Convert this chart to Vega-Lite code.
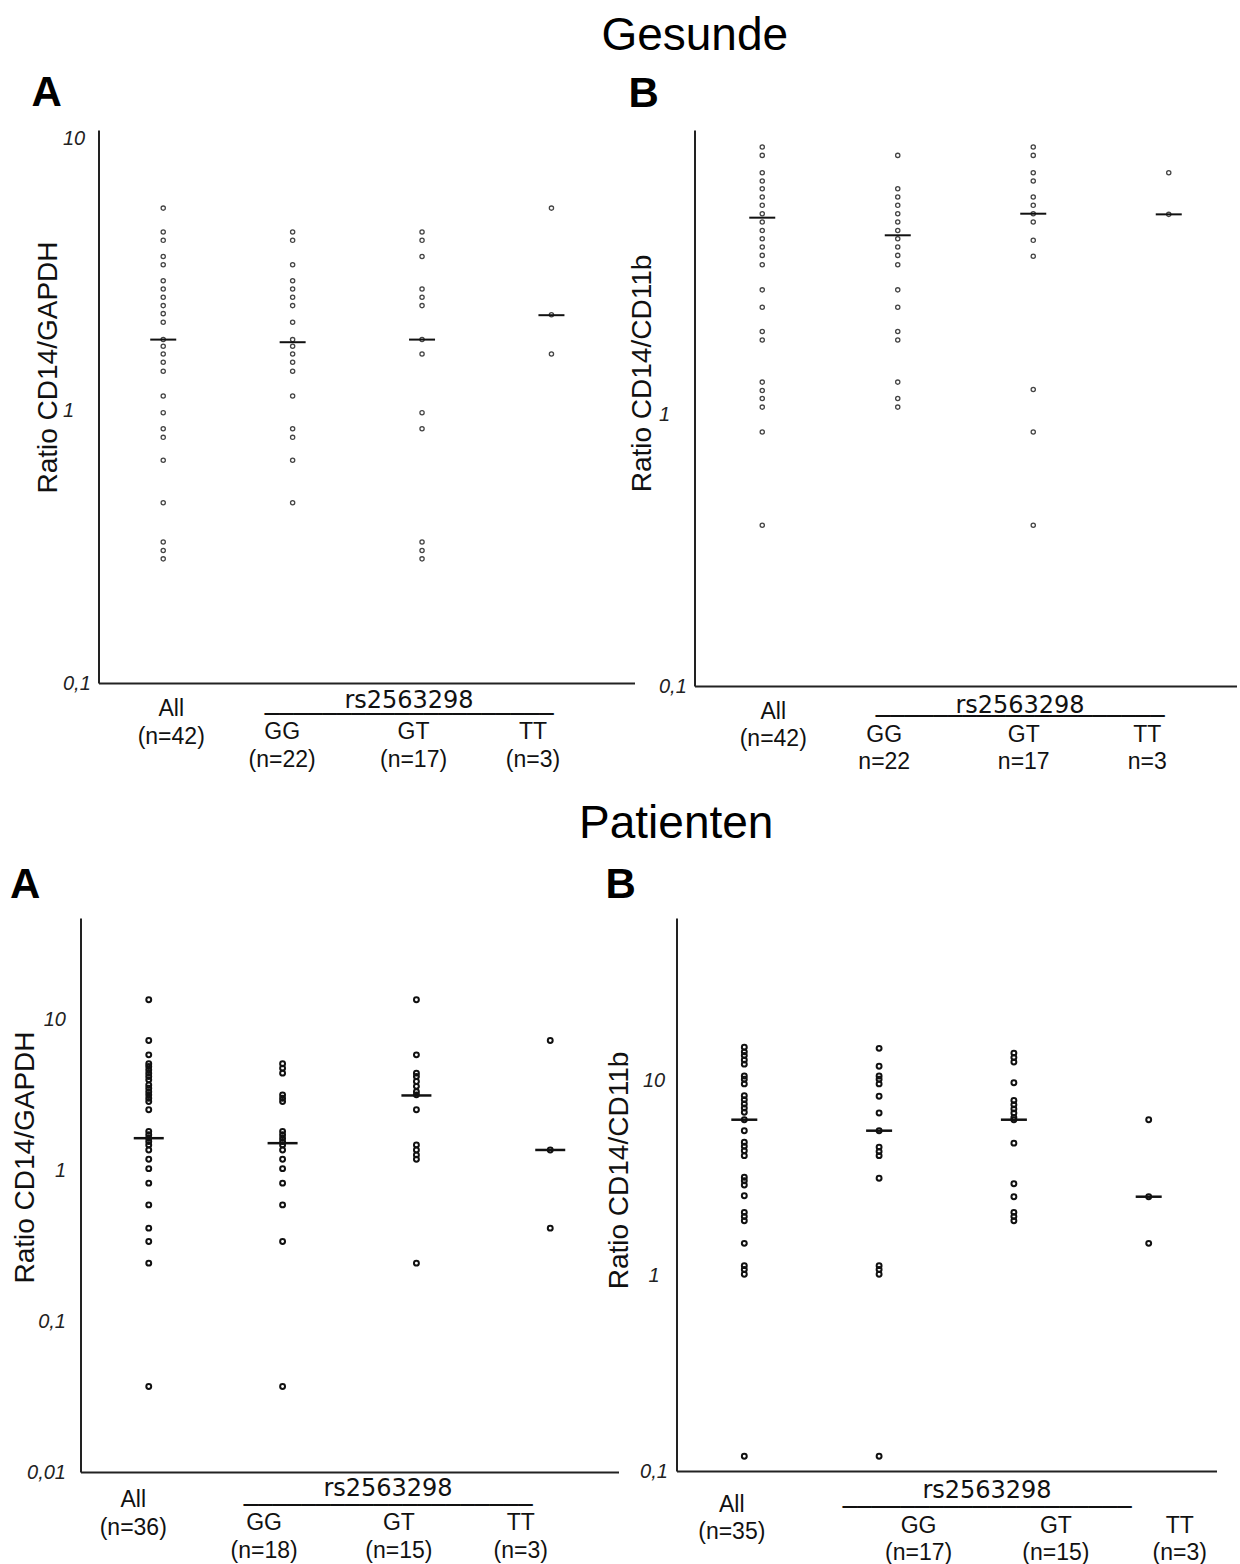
{
"$schema": "https://vega.github.io/schema/vega-lite/v6.json",
"autosize": {"type": "pad"},
"padding": {"left": 9.5, "top": 12, "right": 0, "bottom": 0},
"background": "white",
"config": {"font": "Liberation Sans", "view": {"stroke": null}, "title": {"color": "#000", "font": "Liberation Sans"}},
"datasets": {
"pts": [
{"p":"GA","g":"All","v":5.57},{"p":"GA","g":"All","v":4.55},{"p":"GA","g":"All","v":4.24},{"p":"GA","g":"All","v":3.70},{"p":"GA","g":"All","v":3.45},{"p":"GA","g":"All","v":3.01},{"p":"GA","g":"All","v":2.81},{"p":"GA","g":"All","v":2.62},{"p":"GA","g":"All","v":2.44},{"p":"GA","g":"All","v":2.28},{"p":"GA","g":"All","v":2.12},{"p":"GA","g":"All","v":1.83},{"p":"GA","g":"All","v":1.73},{"p":"GA","g":"All","v":1.62},{"p":"GA","g":"All","v":1.51},{"p":"GA","g":"All","v":1.40},{"p":"GA","g":"All","v":1.135},{"p":"GA","g":"All","v":0.986},{"p":"GA","g":"All","v":0.861},{"p":"GA","g":"All","v":0.80},{"p":"GA","g":"All","v":0.659},{"p":"GA","g":"All","v":0.46},{"p":"GA","g":"All","v":0.33},{"p":"GA","g":"All","v":0.307},{"p":"GA","g":"All","v":0.286},
{"p":"GA","g":"GG","v":4.55},{"p":"GA","g":"GG","v":4.24},{"p":"GA","g":"GG","v":3.45},{"p":"GA","g":"GG","v":3.01},{"p":"GA","g":"GG","v":2.81},{"p":"GA","g":"GG","v":2.62},{"p":"GA","g":"GG","v":2.44},{"p":"GA","g":"GG","v":2.12},{"p":"GA","g":"GG","v":1.83},{"p":"GA","g":"GG","v":1.73},{"p":"GA","g":"GG","v":1.62},{"p":"GA","g":"GG","v":1.51},{"p":"GA","g":"GG","v":1.40},{"p":"GA","g":"GG","v":1.135},{"p":"GA","g":"GG","v":0.861},{"p":"GA","g":"GG","v":0.80},{"p":"GA","g":"GG","v":0.659},{"p":"GA","g":"GG","v":0.46},
{"p":"GA","g":"GT","v":4.55},{"p":"GA","g":"GT","v":4.24},{"p":"GA","g":"GT","v":3.70},{"p":"GA","g":"GT","v":2.81},{"p":"GA","g":"GT","v":2.62},{"p":"GA","g":"GT","v":2.44},{"p":"GA","g":"GT","v":1.83},{"p":"GA","g":"GT","v":1.62},{"p":"GA","g":"GT","v":0.986},{"p":"GA","g":"GT","v":0.861},{"p":"GA","g":"GT","v":0.33},{"p":"GA","g":"GT","v":0.307},{"p":"GA","g":"GT","v":0.286},
{"p":"GA","g":"TT","v":5.57},{"p":"GA","g":"TT","v":2.26},{"p":"GA","g":"TT","v":1.62},
{"p":"GB","g":"All","v":9.59},{"p":"GB","g":"All","v":8.93},{"p":"GB","g":"All","v":7.71},{"p":"GB","g":"All","v":7.19},{"p":"GB","g":"All","v":6.73},{"p":"GB","g":"All","v":6.28},{"p":"GB","g":"All","v":5.85},{"p":"GB","g":"All","v":5.45},{"p":"GB","g":"All","v":5.08},{"p":"GB","g":"All","v":4.73},{"p":"GB","g":"All","v":4.41},{"p":"GB","g":"All","v":4.11},{"p":"GB","g":"All","v":3.83},{"p":"GB","g":"All","v":3.54},{"p":"GB","g":"All","v":2.86},{"p":"GB","g":"All","v":2.47},{"p":"GB","g":"All","v":2.01},{"p":"GB","g":"All","v":1.87},{"p":"GB","g":"All","v":1.31},{"p":"GB","g":"All","v":1.22},{"p":"GB","g":"All","v":1.14},{"p":"GB","g":"All","v":1.06},{"p":"GB","g":"All","v":0.859},{"p":"GB","g":"All","v":0.39},
{"p":"GB","g":"GG","v":8.93},{"p":"GB","g":"GG","v":6.73},{"p":"GB","g":"GG","v":6.28},{"p":"GB","g":"GG","v":5.85},{"p":"GB","g":"GG","v":5.45},{"p":"GB","g":"GG","v":5.08},{"p":"GB","g":"GG","v":4.73},{"p":"GB","g":"GG","v":4.41},{"p":"GB","g":"GG","v":4.11},{"p":"GB","g":"GG","v":3.83},{"p":"GB","g":"GG","v":3.54},{"p":"GB","g":"GG","v":2.86},{"p":"GB","g":"GG","v":2.47},{"p":"GB","g":"GG","v":2.01},{"p":"GB","g":"GG","v":1.87},{"p":"GB","g":"GG","v":1.31},{"p":"GB","g":"GG","v":1.14},{"p":"GB","g":"GG","v":1.06},
{"p":"GB","g":"GT","v":9.59},{"p":"GB","g":"GT","v":8.93},{"p":"GB","g":"GT","v":7.71},{"p":"GB","g":"GT","v":7.19},{"p":"GB","g":"GT","v":6.28},{"p":"GB","g":"GT","v":5.85},{"p":"GB","g":"GT","v":5.45},{"p":"GB","g":"GT","v":5.08},{"p":"GB","g":"GT","v":4.35},{"p":"GB","g":"GT","v":3.80},{"p":"GB","g":"GT","v":1.23},{"p":"GB","g":"GT","v":0.859},{"p":"GB","g":"GT","v":0.39},
{"p":"GB","g":"TT","v":7.71},{"p":"GB","g":"TT","v":5.42},
{"p":"PA","g":"All","v":13.6},{"p":"PA","g":"All","v":7.30},{"p":"PA","g":"All","v":5.86},{"p":"PA","g":"All","v":5.11},{"p":"PA","g":"All","v":4.90},{"p":"PA","g":"All","v":4.66},{"p":"PA","g":"All","v":4.43},{"p":"PA","g":"All","v":4.21},{"p":"PA","g":"All","v":4.00},{"p":"PA","g":"All","v":3.70},{"p":"PA","g":"All","v":3.52},{"p":"PA","g":"All","v":3.34},{"p":"PA","g":"All","v":3.18},{"p":"PA","g":"All","v":3.02},{"p":"PA","g":"All","v":2.87},{"p":"PA","g":"All","v":2.53},{"p":"PA","g":"All","v":1.82},{"p":"PA","g":"All","v":1.73},{"p":"PA","g":"All","v":1.64},{"p":"PA","g":"All","v":1.56},{"p":"PA","g":"All","v":1.48},{"p":"PA","g":"All","v":1.37},{"p":"PA","g":"All","v":1.19},{"p":"PA","g":"All","v":1.03},{"p":"PA","g":"All","v":0.825},{"p":"PA","g":"All","v":0.592},{"p":"PA","g":"All","v":0.415},{"p":"PA","g":"All","v":0.338},{"p":"PA","g":"All","v":0.243},{"p":"PA","g":"All","v":0.0369},
{"p":"PA","g":"GG","v":5.11},{"p":"PA","g":"GG","v":4.78},{"p":"PA","g":"GG","v":4.43},{"p":"PA","g":"GG","v":3.18},{"p":"PA","g":"GG","v":3.02},{"p":"PA","g":"GG","v":2.87},{"p":"PA","g":"GG","v":1.82},{"p":"PA","g":"GG","v":1.73},{"p":"PA","g":"GG","v":1.64},{"p":"PA","g":"GG","v":1.56},{"p":"PA","g":"GG","v":1.48},{"p":"PA","g":"GG","v":1.37},{"p":"PA","g":"GG","v":1.19},{"p":"PA","g":"GG","v":1.03},{"p":"PA","g":"GG","v":0.825},{"p":"PA","g":"GG","v":0.592},{"p":"PA","g":"GG","v":0.338},{"p":"PA","g":"GG","v":0.0369},
{"p":"PA","g":"GT","v":13.6},{"p":"PA","g":"GT","v":5.86},{"p":"PA","g":"GT","v":4.43},{"p":"PA","g":"GT","v":4.21},{"p":"PA","g":"GT","v":3.90},{"p":"PA","g":"GT","v":3.62},{"p":"PA","g":"GT","v":3.34},{"p":"PA","g":"GT","v":3.18},{"p":"PA","g":"GT","v":2.53},{"p":"PA","g":"GT","v":1.48},{"p":"PA","g":"GT","v":1.37},{"p":"PA","g":"GT","v":1.27},{"p":"PA","g":"GT","v":1.19},{"p":"PA","g":"GT","v":0.243},
{"p":"PA","g":"TT","v":7.30},{"p":"PA","g":"TT","v":1.37},{"p":"PA","g":"TT","v":0.415},
{"p":"PB","g":"All","v":14.9},{"p":"PB","g":"All","v":14.1},{"p":"PB","g":"All","v":13.5},{"p":"PB","g":"All","v":12.8},{"p":"PB","g":"All","v":12.2},{"p":"PB","g":"All","v":10.6},{"p":"PB","g":"All","v":10.2},{"p":"PB","g":"All","v":9.66},{"p":"PB","g":"All","v":8.41},{"p":"PB","g":"All","v":8.02},{"p":"PB","g":"All","v":7.62},{"p":"PB","g":"All","v":7.27},{"p":"PB","g":"All","v":6.91},{"p":"PB","g":"All","v":6.33},{"p":"PB","g":"All","v":5.56},{"p":"PB","g":"All","v":4.85},{"p":"PB","g":"All","v":4.63},{"p":"PB","g":"All","v":4.39},{"p":"PB","g":"All","v":4.14},{"p":"PB","g":"All","v":3.21},{"p":"PB","g":"All","v":3.08},{"p":"PB","g":"All","v":2.93},{"p":"PB","g":"All","v":2.58},{"p":"PB","g":"All","v":2.12},{"p":"PB","g":"All","v":2.02},{"p":"PB","g":"All","v":1.92},{"p":"PB","g":"All","v":1.47},{"p":"PB","g":"All","v":1.13},{"p":"PB","g":"All","v":1.08},{"p":"PB","g":"All","v":1.02},{"p":"PB","g":"All","v":0.119},
{"p":"PB","g":"GG","v":14.7},{"p":"PB","g":"GG","v":11.9},{"p":"PB","g":"GG","v":10.6},{"p":"PB","g":"GG","v":10.2},{"p":"PB","g":"GG","v":9.66},{"p":"PB","g":"GG","v":8.35},{"p":"PB","g":"GG","v":6.85},{"p":"PB","g":"GG","v":5.56},{"p":"PB","g":"GG","v":4.58},{"p":"PB","g":"GG","v":4.35},{"p":"PB","g":"GG","v":4.14},{"p":"PB","g":"GG","v":3.17},{"p":"PB","g":"GG","v":1.13},{"p":"PB","g":"GG","v":1.08},{"p":"PB","g":"GG","v":1.02},{"p":"PB","g":"GG","v":0.119},
{"p":"PB","g":"GT","v":13.9},{"p":"PB","g":"GT","v":13.2},{"p":"PB","g":"GT","v":12.5},{"p":"PB","g":"GT","v":9.8},{"p":"PB","g":"GT","v":7.94},{"p":"PB","g":"GT","v":7.55},{"p":"PB","g":"GT","v":7.19},{"p":"PB","g":"GT","v":6.85},{"p":"PB","g":"GT","v":6.50},{"p":"PB","g":"GT","v":6.33},{"p":"PB","g":"GT","v":4.80},{"p":"PB","g":"GT","v":2.97},{"p":"PB","g":"GT","v":2.55},{"p":"PB","g":"GT","v":2.12},{"p":"PB","g":"GT","v":2.02},{"p":"PB","g":"GT","v":1.92},
{"p":"PB","g":"TT","v":6.33},{"p":"PB","g":"TT","v":2.55},{"p":"PB","g":"TT","v":1.47}
],
"med": [
{"p":"GA","g":"All","m":1.83},{"p":"GA","g":"GG","m":1.79},{"p":"GA","g":"GT","m":1.83},{"p":"GA","g":"TT","m":2.25},
{"p":"GB","g":"All","m":5.27},{"p":"GB","g":"GG","m":4.54},{"p":"GB","g":"GT","m":5.45},{"p":"GB","g":"TT","m":5.42},
{"p":"PA","g":"All","m":1.64},{"p":"PA","g":"GG","m":1.52},{"p":"PA","g":"GT","m":3.15},{"p":"PA","g":"TT","m":1.37},
{"p":"PB","g":"All","m":6.33},{"p":"PB","g":"GG","m":5.56},{"p":"PB","g":"GT","m":6.33},{"p":"PB","g":"TT","m":2.55}
]
},
"vconcat": [
{
"title": {"text": "Gesunde", "fontSize": 46, "fontWeight": "normal", "anchor": "middle", "frame": "bounds", "dx": 60.75, "offset": -23.6, "baseline": "alphabetic"},
"spacing": 0,
"bounds": "flush",
"hconcat": [
{"width": 17.5, "height": 10, "data": {"values": []}, "mark": "point"},
{
"width": 536, "height": 553,
"title": {"text": "A", "fontSize": 42, "fontWeight": "bold", "anchor": "start", "frame": "group", "dx": -67, "offset": -19, "baseline": "alphabetic"},
"layer": [
{"data": {"name": "pts"}, "transform": [{"filter": "datum.p === 'GA'"}],
"mark": {"type": "point", "shape": "circle", "filled": false, "size": 18, "strokeWidth": 1.3, "color": "#444", "opacity": 1},
"encoding": {
"x": {"field": "g", "type": "nominal", "scale": {"type": "point", "domain": ["All","GG","GT","TT"], "padding": 0.571, "align": 0.438},
"axis": {"title": ["rs2563298", "────────────────────"], "titleFont": "DejaVu Sans", "titleFontSize": 24, "titleFontWeight": "normal", "titleColor": "#111", "titleX": 310, "titleY": 5, "titleAlign": "center", "titleBaseline": "top", "titleLineHeight": 14.7,
"labelAngle": 0, "labelExpr": "datum.value === 'All' ? ['All','(n=42)'] : datum.value === 'GG' ? ['GG','(n=22)'] : datum.value === 'GT' ? ['GT','(n=17)'] : ['TT','(n=3)']",
"labelFontSize": 23, "labelColor": "#111", "labelBaseline": "top", "labelAlign": "center", "labelLineHeight": 28,
"labelPadding": {"condition": {"test": "datum.value === 'All'", "value": 14}, "value": 37},
"labelOffset": {"condition": [{"test": "datum.value === 'All'", "value": 7.5}, {"test": "datum.value === 'GG'", "value": -11}, {"test": "datum.value === 'GT'", "value": -9}], "value": -19},
"labelOverlap": false, "labelFlush": false, "labelBound": false,
"ticks": false, "tickSize": 0, "domainColor": "#222", "domainWidth": 2, "grid": false}},
"y": {"field": "v", "type": "quantitative", "scale": {"type": "log", "domain": [0.1, 10.79], "nice": false},
"axis": {"values": [0.1, 1, 10], "title": "Ratio CD14/GAPDH", "titleFontSize": 28, "titleFontWeight": "normal", "titleColor": "#111", "titleX": -50.5, "titleY": 237, "titleAngle": -90, "titleAlign": "center", "titleBaseline": "middle",
"labelExpr": "replace(format(datum.value, '~g'), '.', ',')", "labelFontStyle": "italic", "labelFontSize": 20, "labelColor": "#222", "labelAlign": "left", "labelBaseline": "middle", "labelPadding": 36, "labelOverlap": false, "labelFlush": false, "labelBound": false,
"ticks": false, "tickSize": 0, "domainColor": "#222", "domainWidth": 2, "grid": false}}
}},
{"data": {"name": "med"}, "transform": [{"filter": "datum.p === 'GA'"}],
"mark": {"type": "tick", "size": 26, "thickness": 2, "color": "#111", "opacity": 1},
"encoding": {"x": {"field": "g", "type": "nominal"}, "y": {"field": "m", "type": "quantitative"}}}
]
},
{"width": 60, "height": 10, "data": {"values": []}, "mark": "point"},
{
"width": 542, "height": 556,
"title": {"text": "B", "fontSize": 42, "fontWeight": "bold", "anchor": "start", "frame": "group", "dx": -66, "offset": -19, "baseline": "alphabetic"},
"layer": [
{"data": {"name": "pts"}, "transform": [{"filter": "datum.p === 'GB'"}],
"mark": {"type": "point", "shape": "circle", "filled": false, "size": 18, "strokeWidth": 1.3, "color": "#444", "opacity": 1},
"encoding": {
"x": {"field": "g", "type": "nominal", "scale": {"type": "point", "domain": ["All","GG","GT","TT"], "padding": 0.5, "align": 0.5},
"axis": {"title": ["rs2563298", "────────────────────"], "titleFont": "DejaVu Sans", "titleFontSize": 24, "titleFontWeight": "normal", "titleColor": "#111", "titleX": 325, "titleY": 7, "titleAlign": "center", "titleBaseline": "top", "titleLineHeight": 11,
"labelAngle": 0, "labelExpr": "datum.value === 'All' ? ['All','(n=42)'] : datum.value === 'GG' ? ['GG','n=22'] : datum.value === 'GT' ? ['GT','n=17'] : ['TT','n=3']",
"labelFontSize": 23, "labelColor": "#111", "labelBaseline": "top", "labelAlign": "center", "labelLineHeight": 27,
"labelPadding": {"condition": {"test": "datum.value === 'All'", "value": 14.3}, "value": 37},
"labelOffset": {"condition": [{"test": "datum.value === 'All'", "value": 10.5}, {"test": "datum.value === 'GG'", "value": -14}, {"test": "datum.value === 'GT'", "value": -10}], "value": -22},
"labelOverlap": false, "labelFlush": false, "labelBound": false,
"ticks": false, "tickSize": 0, "domainColor": "#222", "domainWidth": 2, "grid": false}},
"y": {"field": "v", "type": "quantitative", "scale": {"type": "log", "domain": [0.1, 11.07], "nice": false},
"axis": {"values": [0.1, 1], "title": "Ratio CD14/CD11b", "titleFontSize": 28, "titleFontWeight": "normal", "titleColor": "#111", "titleX": -52, "titleY": 243, "titleAngle": -90, "titleAlign": "center", "titleBaseline": "middle",
"labelExpr": "replace(format(datum.value, '~g'), '.', ',')", "labelFontStyle": "italic", "labelFontSize": 20, "labelColor": "#222", "labelAlign": "left", "labelBaseline": "middle", "labelPadding": 36, "labelOverlap": false, "labelFlush": false, "labelBound": false,
"ticks": false, "tickSize": 0, "domainColor": "#222", "domainWidth": 2, "grid": false}}
}},
{"data": {"name": "med"}, "transform": [{"filter": "datum.p === 'GB'"}],
"mark": {"type": "tick", "size": 26, "thickness": 2, "color": "#111", "opacity": 1},
"encoding": {"x": {"field": "g", "type": "nominal"}, "y": {"field": "m", "type": "quantitative"}}}
]
}
]
},
{
"title": {"text": "Patienten", "fontSize": 46, "fontWeight": "normal", "anchor": "middle", "frame": "bounds", "dx": 63, "offset": -19.6, "baseline": "alphabetic"},
"spacing": 0,
"bounds": "flush",
"hconcat": [
{
"width": 538, "height": 554,
"title": {"text": "A", "fontSize": 42, "fontWeight": "bold", "anchor": "start", "frame": "group", "dx": -70.5, "offset": -22, "baseline": "alphabetic"},
"layer": [
{"data": {"name": "pts"}, "transform": [{"filter": "datum.p === 'PA'"}],
"mark": {"type": "point", "shape": "circle", "filled": false, "size": 24, "strokeWidth": 2, "color": "#111", "opacity": 1},
"encoding": {
"x": {"field": "g", "type": "nominal", "scale": {"type": "point", "domain": ["All","GG","GT","TT"], "padding": 0.51, "align": 0.5},
"axis": {"title": ["rs2563298", "────────────────────"], "titleFont": "DejaVu Sans", "titleFontSize": 24, "titleFontWeight": "normal", "titleColor": "#111", "titleX": 307, "titleY": 4.5, "titleAlign": "center", "titleBaseline": "top", "titleLineHeight": 16.8,
"labelAngle": 0, "labelExpr": "datum.value === 'All' ? ['All','(n=36)'] : datum.value === 'GG' ? ['GG','(n=18)'] : datum.value === 'GT' ? ['GT','(n=15)'] : ['TT','(n=3)']",
"labelFontSize": 23, "labelColor": "#111", "labelBaseline": "top", "labelAlign": "center", "labelLineHeight": 28,
"labelPadding": {"condition": {"test": "datum.value === 'All'", "value": 16.6}, "value": 39.6},
"labelOffset": {"condition": [{"test": "datum.value === 'All'", "value": -16}, {"test": "datum.value === 'GG'", "value": -19}, {"test": "datum.value === 'GT'", "value": -18}], "value": -30},
"labelOverlap": false, "labelFlush": false, "labelBound": false,
"ticks": false, "tickSize": 0, "domainColor": "#222", "domainWidth": 2, "grid": false}},
"y": {"field": "v", "type": "quantitative", "scale": {"type": "log", "domain": [0.01, 47.4], "nice": false},
"axis": {"values": [0.01, 0.1, 1, 10], "title": "Ratio CD14/GAPDH", "titleFontSize": 28, "titleFontWeight": "normal", "titleColor": "#111", "titleX": -55, "titleY": 239, "titleAngle": -90, "titleAlign": "center", "titleBaseline": "middle",
"labelExpr": "replace(format(datum.value, '~g'), '.', ',')", "labelFontStyle": "italic", "labelFontSize": 20, "labelColor": "#222", "labelAlign": "right", "labelBaseline": "middle", "labelPadding": 15, "labelOverlap": false, "labelFlush": false, "labelBound": false,
"ticks": false, "tickSize": 0, "domainColor": "#222", "domainWidth": 2, "grid": false}}
}},
{"data": {"name": "med"}, "transform": [{"filter": "datum.p === 'PA'"}],
"mark": {"type": "tick", "size": 30, "thickness": 2.5, "color": "#111", "opacity": 1},
"encoding": {"x": {"field": "g", "type": "nominal"}, "y": {"field": "m", "type": "quantitative"}}}
]
},
{"width": 58, "height": 10, "data": {"values": []}, "mark": "point"},
{
"width": 540, "height": 553,
"title": {"text": "B", "fontSize": 42, "fontWeight": "bold", "anchor": "start", "frame": "group", "dx": -71, "offset": -22, "baseline": "alphabetic"},
"layer": [
{"data": {"name": "pts"}, "transform": [{"filter": "datum.p === 'PB'"}],
"mark": {"type": "point", "shape": "circle", "filled": false, "size": 24, "strokeWidth": 2, "color": "#111", "opacity": 1},
"encoding": {
"x": {"field": "g", "type": "nominal", "scale": {"type": "point", "domain": ["All","GG","GT","TT"], "padding": 0.503, "align": 0.5},
"axis": {"title": ["rs2563298", "────────────────────"], "titleFont": "DejaVu Sans", "titleFontSize": 24, "titleFontWeight": "normal", "titleColor": "#111", "titleX": 310, "titleY": 7, "titleAlign": "center", "titleBaseline": "top", "titleLineHeight": 17,
"labelAngle": 0, "labelExpr": "datum.value === 'All' ? ['All','(n=35)'] : datum.value === 'GG' ? ['GG','(n=17)'] : datum.value === 'GT' ? ['GT','(n=15)'] : ['TT','(n=3)']",
"labelFontSize": 23, "labelColor": "#111", "labelBaseline": "top", "labelAlign": "center", "labelLineHeight": 27,
"labelPadding": {"condition": {"test": "datum.value === 'All'", "value": 22}, "value": 43},
"labelOffset": {"condition": [{"test": "datum.value === 'All'", "value": -13}, {"test": "datum.value === 'GG'", "value": 39}, {"test": "datum.value === 'GT'", "value": 41.5}], "value": 30.5},
"labelOverlap": false, "labelFlush": false, "labelBound": false,
"ticks": false, "tickSize": 0, "domainColor": "#222", "domainWidth": 2, "grid": false}},
"y": {"field": "v", "type": "quantitative", "scale": {"type": "log", "domain": [0.1, 68.5], "nice": false},
"axis": {"values": [0.1, 1, 10], "title": "Ratio CD14/CD11b", "titleFontSize": 28, "titleFontWeight": "normal", "titleColor": "#111", "titleX": -57.5, "titleY": 252, "titleAngle": -90, "titleAlign": "center", "titleBaseline": "middle",
"labelExpr": "replace(format(datum.value, '~g'), '.', ',')", "labelFontStyle": "italic", "labelFontSize": 20, "labelColor": "#222", "labelAlign": "center", "labelBaseline": "middle", "labelPadding": 23, "labelOverlap": false, "labelFlush": false, "labelBound": false,
"ticks": false, "tickSize": 0, "domainColor": "#222", "domainWidth": 2, "grid": false}}
}},
{"data": {"name": "med"}, "transform": [{"filter": "datum.p === 'PB'"}],
"mark": {"type": "tick", "size": 26, "thickness": 2.5, "color": "#111", "opacity": 1},
"encoding": {"x": {"field": "g", "type": "nominal"}, "y": {"field": "m", "type": "quantitative"}}}
]
}
]
}
],
"spacing": 27
}
